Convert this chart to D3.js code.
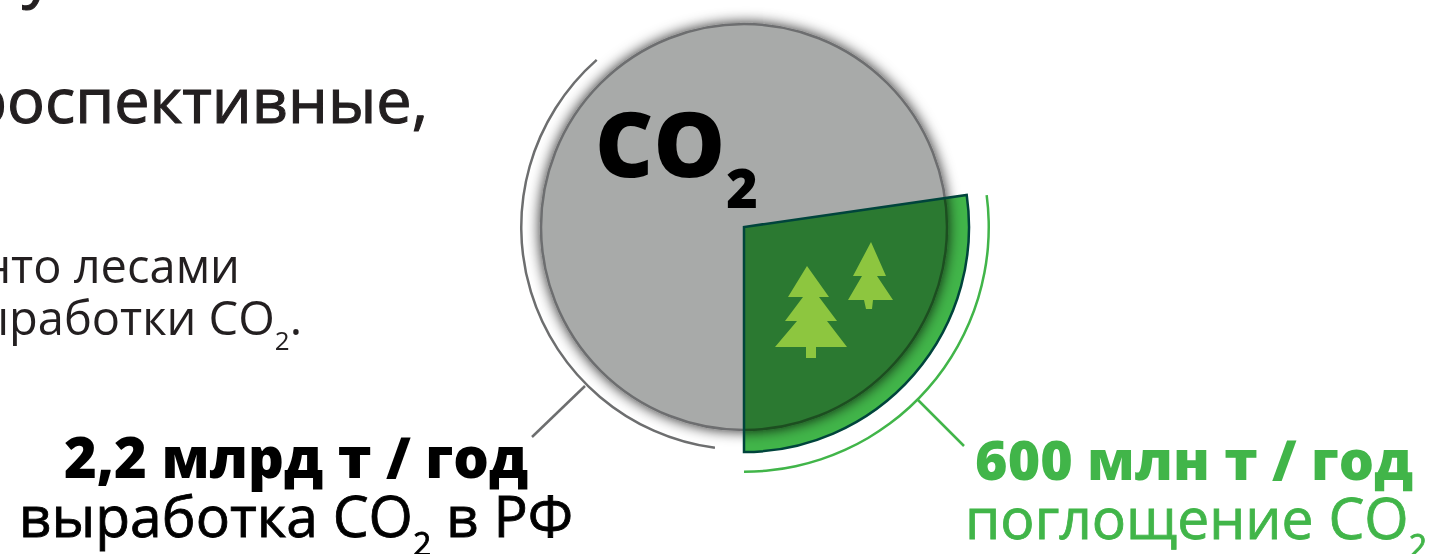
<!DOCTYPE html>
<html>
<head>
<meta charset="utf-8">
<script src="https://cdn.jsdelivr.net/npm/d3@7"></script>
<style>
  html, body { margin: 0; padding: 0; background: #fff; overflow: hidden; }
  text { font-family: "Open Sans", sans-serif; }
</style>
</head>
<body>
<div id="chart"></div>
<script>
// values in млн т / год
const categories = ["выработка", "поглощение"];
const values = [2200, 600];
const valueLabels = ["2,2 млрд т / год", "600 млн т / год"];

const w = 1430;
const h = 554;
const cx = 744;
const cy = 227;
const radius = 203;      // grey circle
const wedgeRadius = 225; // green slice
const grey = "#a8aaa9";
const green = "#41b549";
const dark = "#231f20";

// whole circle = total emission, the slice is measured on the same scale
const angle = d3.scaleLinear().domain([0, values[0]]).range([0, 2 * Math.PI]);
const sliceEnd = Math.PI;
const sliceStart = sliceEnd - angle(values[1]);
const rad = d => d * Math.PI / 180;

const svg = d3.select("#chart").append("svg")
  .attr("width", w)
  .attr("height", h)
  .style("display", "block");

const defs = svg.append("defs");
const shadow = defs.append("filter")
  .attr("id", "shadow")
  .attr("x", "-15%").attr("y", "-15%")
  .attr("width", "130%").attr("height", "130%");
shadow.append("feGaussianBlur").attr("in", "SourceAlpha").attr("stdDeviation", 7).attr("result", "blur");
shadow.append("feFlood").attr("flood-color", "#000").attr("flood-opacity", 0.85);
shadow.append("feComposite").attr("in2", "blur").attr("operator", "in").attr("result", "sh");
const merge = shadow.append("feMerge");
merge.append("feMergeNode").attr("in", "sh");
merge.append("feMergeNode").attr("in", "SourceGraphic");

// left side text, cut by the page edge
// medium weight is not installed, a thin stroke of the same colour stands in for it
svg.append("text").attr("x", 22).attr("y", -5)
  .attr("font-size", 63).attr("fill", dark).attr("stroke", dark).attr("stroke-width", 1.1).text("у");
svg.append("text").attr("x", 428).attr("y", 123).attr("text-anchor", "end")
  .attr("font-size", 63).attr("fill", dark).attr("stroke", dark).attr("stroke-width", 1.1).text("ретроспективные,");
svg.append("text").attr("x", 240).attr("y", 283).attr("text-anchor", "end")
  .attr("font-size", 47).attr("fill", dark).text("нто лесами");
const body2 = svg.append("text").attr("x", 302).attr("y", 335).attr("text-anchor", "end")
  .attr("font-size", 47).attr("fill", dark);
body2.append("tspan").text("выработки СО");
body2.append("tspan").attr("font-size", 26).attr("dy", 15).text("2");
body2.append("tspan").attr("dy", -15).text(".");

const g = svg.append("g").attr("transform", "translate(" + cx + "," + cy + ")");
const arc = d3.arc();

// slice fill goes under the circle, the circle multiplies over it
const slice = arc({ innerRadius: 0, outerRadius: wedgeRadius, startAngle: sliceStart, endAngle: sliceEnd });
g.append("path").attr("d", slice).attr("fill", green);

g.append("path")
  .attr("d", arc({ innerRadius: 0, outerRadius: radius, startAngle: 0, endAngle: angle(values[0]) }))
  .attr("fill", grey)
  .attr("stroke", "#6d6e6f")
  .attr("stroke-width", 2.5)
  .attr("filter", "url(#shadow)")
  .style("mix-blend-mode", "multiply");

g.append("path").attr("d", slice)
  .attr("fill", "none")
  .attr("stroke", "#00443c")
  .attr("stroke-width", 2.5)
  .attr("stroke-linejoin", "miter");

// outer brackets
g.append("path")
  .attr("d", arc({ innerRadius: 221.5, outerRadius: 224, startAngle: rad(187.5), endAngle: rad(318.6) }))
  .attr("fill", "#6d6e6f");
g.append("path")
  .attr("d", arc({ innerRadius: 243.5, outerRadius: 246, startAngle: sliceStart + rad(0.7), endAngle: sliceEnd }))
  .attr("fill", green);

// leader lines
svg.append("line").attr("x1", 585).attr("y1", 386).attr("x2", 532).attr("y2", 437)
  .attr("stroke", "#6d6e6f").attr("stroke-width", 2.5);
svg.append("line").attr("x1", 918).attr("y1", 400).attr("x2", 964).attr("y2", 446)
  .attr("stroke", green).attr("stroke-width", 2.5);

// trees
const treeBig = "M807,266L829,297L819,297L837,321L827,321L847,347L816,347L816,358L806,358L806,347L775,347L797,321L785,321L803,297L788,297Z";
const treeSmall = "M871,242L886,276L877,276L893,300L873,300L872,309L866,309L864,300L848,300L862,276L853,276Z";
svg.selectAll("path.tree").data([treeBig, treeSmall]).enter().append("path")
  .attr("class", "tree").attr("d", d => d).attr("fill", "#8dc63f");

// CO2 in the circle
const co2 = svg.append("text").attr("x", 595).attr("y", 177)
  .attr("font-size", 90).attr("font-weight", 800).attr("fill", "#000");
co2.append("tspan").text("CO");
co2.append("tspan").attr("font-size", 54).attr("dy", 31).attr("dx", 1).text("2");

// labels
svg.append("text").attr("x", 296).attr("y", 478).attr("text-anchor", "middle")
  .attr("font-size", 56).attr("font-weight", 800).attr("fill", "#000").text(valueLabels[0]);
const sub1 = svg.append("text").attr("x", 296).attr("y", 537).attr("text-anchor", "middle")
  .attr("font-size", 57).attr("fill", "#000").attr("stroke", "#000").attr("stroke-width", 0.8);
sub1.append("tspan").text(categories[0] + " СО");
sub1.append("tspan").attr("font-size", 32).attr("dy", 19).text("2");
sub1.append("tspan").attr("dy", -19).text(" в РФ");

svg.append("text").attr("x", 1194).attr("y", 480).attr("text-anchor", "middle")
  .attr("font-size", 55.5).attr("font-weight", 800).attr("fill", green).text(valueLabels[1]);
const sub2 = svg.append("text").attr("x", 965).attr("y", 539)
  .attr("font-size", 57).attr("fill", green).attr("stroke", green).attr("stroke-width", 0.8);
sub2.append("tspan").text(categories[1] + " СО");
sub2.append("tspan").attr("font-size", 32).attr("dy", 19).text("2");
</script>
</body>
</html>
